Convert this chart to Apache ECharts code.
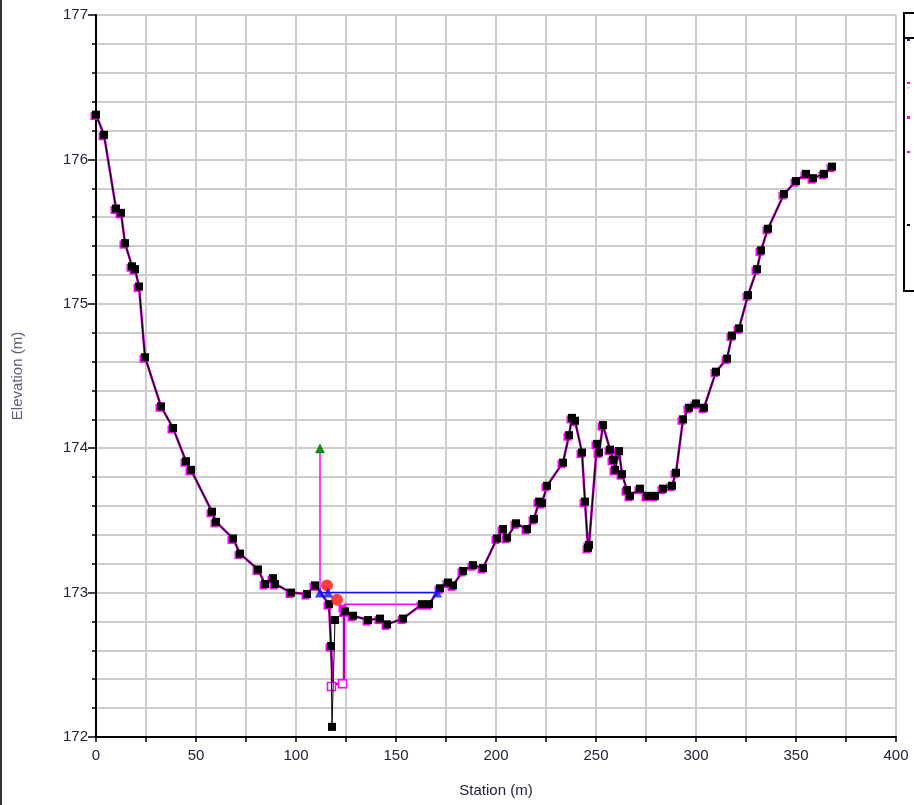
<!DOCTYPE html>
<html>
<head>
<meta charset="utf-8">
<script src="https://cdn.jsdelivr.net/npm/echarts@6/dist/echarts.min.js"></script>
<style>html,body{margin:0;padding:0;background:#fff;}#c{width:914px;height:805px;}</style>
</head>
<body>
<div id="c"></div>
<script>
// Ground profile (black)
var groundStation = [0,4,10,12.5,14.5,18,19.5,21.5,24.5,32.5,38.5,45,47.5,58,60,68.5,72,81,84.5,88.5,89.5,97.5,105.5,109.5,116.5,117.5,118,119.5,124.5,128.5,136,142,145.5,153.5,163,166.5,172,176,178.5,183.5,188.5,193.5,200.5,203.5,205.5,210,215.5,219,221.5,223,225.5,233.5,236.5,238,239.5,243,244.5,246,246.5,250.5,251.5,253.5,257,258.5,259.5,261.5,263,265.5,267,272,275.5,279.5,283.5,288,290,293.5,296.5,300,304,310,315.5,318,321.5,326,330.5,332.5,336,344,350,355,358.5,364,368];
var groundElev = [176.31,176.17,175.66,175.63,175.42,175.26,175.24,175.12,174.63,174.29,174.14,173.91,173.85,173.56,173.49,173.375,173.27,173.16,173.06,173.10,173.06,173.00,172.99,173.05,172.92,172.63,172.07,172.81,172.87,172.84,172.81,172.82,172.78,172.82,172.92,172.92,173.03,173.07,173.05,173.15,173.19,173.17,173.375,173.44,173.38,173.48,173.44,173.51,173.63,173.62,173.74,173.90,174.09,174.21,174.19,173.97,173.63,173.31,173.33,174.03,173.97,174.16,173.99,173.92,173.85,173.98,173.82,173.71,173.67,173.72,173.67,173.67,173.72,173.74,173.83,174.20,174.28,174.31,174.28,174.53,174.62,174.78,174.83,175.06,175.24,175.37,175.52,175.76,175.85,175.90,175.87,175.90,175.95];
// Alternate (magenta) profile: differs only in the channel
var altChannelStation = [116.5,117.5,118.5,124,124];
var altChannelElev = [172.92,172.63,172.36,172.38,172.90];
// Water surface (blue)
var wsStation = [112,116,170.5];
var wsElev = [173.0,173.0,173.0];
// Magenta level line
var lvlStation = [124,160.5];
var lvlElev = [172.92,172.92];
// Energy marker (green) and stem
var egStation = [112,112];
var egElev = [173.0,174.0];
// Red points
var redStation = [115.5,120.5];
var redElev = [173.05,172.95];
var xTicks = [0,50,100,150,200,250,300,350,400];
var yTicks = [172,173,174,175,176,177];

function pairs(xs, ys){ return xs.map(function(x,i){return [x, ys[i]];}); }
var ground = pairs(groundStation, groundElev);
var alt = [];
ground.forEach(function(p){ if (p[0] < 116.5) alt.push(p); });
pairs(altChannelStation, altChannelElev).forEach(function(p){ alt.push(p); });
ground.forEach(function(p){ if (p[0] > 124) alt.push(p); });
var altSymbols = alt.map(function(p){
  var inChannel = p[0] >= 118.5 && p[0] <= 124 && p[1] < 172.5;
  return inChannel ? {value:p, itemStyle:{color:'#fff', borderColor:'#ff00ff', borderWidth:1.5}} : {value:p};
});

var chart = echarts.init(document.getElementById('c'), null, {renderer:'canvas'});
var font = 'Liberation Sans, Arial, sans-serif';
var egData = pairs(egStation, egElev).map(function(p,i){
  return i === 1 ? {value:p, symbol:'triangle', symbolSize:10} : {value:p, symbol:'none'};
});
chart.setOption({
  animation: false,
  backgroundColor: '#fff',
  grid: {left:96, right:18, top:15, bottom:68, containLabel:false},
  xAxis: {
    type:'value', min:0, max:400, interval:50,
    name:'Station (m)', nameLocation:'middle', nameGap:46,
    nameTextStyle:{fontFamily:font, fontSize:15, color:'#22223a'},
    axisLine:{show:true, onZero:false, lineStyle:{color:'#000', width:2}},
    axisTick:{show:true, length:5, lineStyle:{color:'#000', width:1.5}},
    minorTick:{show:true, splitNumber:2, length:5, lineStyle:{color:'#000', width:1.5}},
    axisLabel:{fontFamily:font, fontSize:15, color:'#22223a', margin:11,
      formatter:function(v){ return xTicks.indexOf(v) >= 0 ? String(v) : ''; }},
    splitLine:{show:true, lineStyle:{color:'#cccccc', width:2}},
    minorSplitLine:{show:true, lineStyle:{color:'#cccccc', width:2}}
  },
  yAxis: {
    type:'value', min:172, max:177, interval:1,
    name:'Elevation (m)', nameLocation:'middle', nameGap:71,
    nameTextStyle:{fontFamily:font, fontSize:15, color:'#5a6078'},
    axisLine:{show:true, onZero:false, lineStyle:{color:'#000', width:2}},
    axisTick:{show:true, length:8, lineStyle:{color:'#000', width:1.5}},
    minorTick:{show:true, splitNumber:5, length:4, lineStyle:{color:'#000', width:1.5}},
    axisLabel:{fontFamily:font, fontSize:15, color:'#22223a', margin:8,
      formatter:function(v){ return yTicks.indexOf(v) >= 0 ? String(v) : ''; }},
    splitLine:{show:true, lineStyle:{color:'#cccccc', width:2}},
    minorSplitLine:{show:true, lineStyle:{color:'#cccccc', width:2}}
  },
  series: [
    {type:'line', data:pairs(lvlStation, lvlElev), symbol:'none', z:3,
     lineStyle:{color:'#ff00ff', width:1.5}},
    {type:'line', data:pairs(wsStation, wsElev), symbol:'none', z:3,
     lineStyle:{color:'#1010ff', width:1.5}},
    {type:'line', data:egData, z:3, itemStyle:{color:'#1a8a1a'},
     lineStyle:{color:'#ff00ff', width:1.5}},
    {type:'line', data:altSymbols, symbol:'rect', symbolSize:8, symbolOffset:[-1.5,1.5], z:4,
     itemStyle:{color:'#ff00ff', borderWidth:0},
     lineStyle:{color:'#b000b0', width:2.5}},
    {type:'line', data:ground, symbol:'rect', symbolSize:8, z:5,
     itemStyle:{color:'#000', borderWidth:0},
     lineStyle:{color:'#000', width:1}},
    {type:'scatter', data:pairs(redStation, redElev), symbol:'circle', symbolSize:12, z:6,
     itemStyle:{color:'#ff1010'}},
    {type:'scatter', data:pairs(wsStation, wsElev), symbol:'triangle', symbolSize:10, z:7,
     itemStyle:{color:'#1010ff'}}
  ],
  graphic: [
    {type:'rect', shape:{x:0, y:0, width:2, height:805}, style:{fill:'#333'}, z:10},
    {type:'rect', shape:{x:904, y:13, width:20, height:278}, style:{fill:'#fff', stroke:'#000', lineWidth:2}, z:10},
    {type:'line', shape:{x1:904, y1:38, x2:914, y2:38}, style:{stroke:'#000', lineWidth:2}, z:11},
    {type:'rect', shape:{x:907, y:39, width:3, height:2}, style:{fill:'#1010ff'}, z:11},
    {type:'rect', shape:{x:907, y:82, width:3, height:2}, style:{fill:'#ff00ff'}, z:11},
    {type:'rect', shape:{x:907, y:87, width:3, height:2}, style:{fill:'#ffe080'}, z:11},
    {type:'rect', shape:{x:907, y:116, width:3, height:3}, style:{fill:'#ff00ff'}, z:11},
    {type:'rect', shape:{x:907, y:151, width:3, height:2}, style:{fill:'#ff00ff'}, z:11},
    {type:'rect', shape:{x:907, y:224, width:3, height:2}, style:{fill:'#000'}, z:11}
  ]
});
</script>
</body>
</html>
